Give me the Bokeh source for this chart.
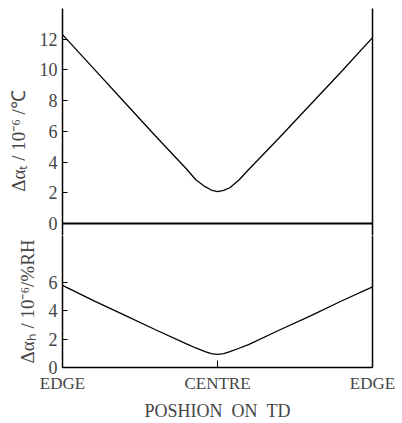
from bokeh.plotting import figure
from bokeh.layouts import column
from bokeh.models import FixedTicker, LinearAxis, Range1d, Span
from bokeh.embed import file_html
from bokeh.resources import INLINE

# ---- data ----
positions = [0.0, 0.1, 0.2, 0.3, 0.4, 0.43, 0.46, 0.48, 0.5, 0.52, 0.54, 0.57, 0.6, 0.7, 0.8, 0.9, 1.0]
alpha_t = [12.3, 10.1, 7.9, 5.7, 3.55, 2.85, 2.4, 2.18, 2.08, 2.16, 2.33, 2.85, 3.5, 5.6, 7.75, 9.9, 12.1]
alpha_h = [5.8, 4.73, 3.7, 2.67, 1.67, 1.38, 1.12, 0.98, 0.93, 0.98, 1.12, 1.36, 1.62, 2.65, 3.65, 4.7, 5.7]
x_ticks = [0, 0.5, 1]
x_tick_labels = ["EDGE", "CENTRE", "EDGE"]
t_ticks = [0, 2, 4, 6, 8, 10, 12]
h_ticks = [0, 2, 4, 6]
t_label = "Δαₜ / 10⁻⁶ /℃" + "\u00a0" * 8
h_label = "Δαₕ / 10⁻⁶/%RH"
x_title = "POSHION\u00a0\u00a0ON\u00a0\u00a0TD"

FONT = "Liberation Serif"
TICK_SIZE = "18px"
XTICK_SIZE = "17px"
LABEL_SIZE = "19px"

# top panel: 0 at y=223, 14 at y=8, extends a little below 0
top = figure(width=402, height=235, x_range=Range1d(0, 1), y_range=Range1d(-0.78, 14),
             output_backend="svg", toolbar_location=None, x_axis_location=None,
             min_border_left=62, min_border_right=30, min_border_top=8, min_border_bottom=0)
top.outline_line_color = None
top.grid.visible = False
top.line(positions, alpha_t, line_color="black", line_width=1.3)
top.add_layout(Span(location=0, dimension="width", line_color="black", line_width=1.8))

ya = top.yaxis[0]
ya.ticker = FixedTicker(ticks=t_ticks)
ya.minor_tick_line_color = None
ya.major_tick_in = 5
ya.major_tick_out = 0
ya.axis_line_width = 1.5
ya.major_label_text_font = FONT
ya.major_label_text_font_size = TICK_SIZE
ya.major_label_standoff = 5
ya.axis_label = t_label
ya.axis_label_text_font = FONT
ya.axis_label_text_font_size = LABEL_SIZE
ya.axis_label_text_font_style = "normal"
ya.axis_label_standoff = 8

ra = LinearAxis(ticker=FixedTicker(ticks=[]), major_label_text_font_size="0px",
                major_tick_out=0, major_tick_in=0, minor_tick_line_color=None,
                axis_line_width=1.5)
top.add_layout(ra, "right")

# bottom panel: 0 at y=375, 15 px per unit
bot = figure(width=402, height=188, x_range=Range1d(0, 1), y_range=Range1d(0, 9.33),
             output_backend="svg", toolbar_location=None,
             min_border_left=62, min_border_right=30, min_border_top=0, min_border_bottom=48)
bot.outline_line_color = None
bot.grid.visible = False
bot.line(positions, alpha_h, line_color="black", line_width=1.3)

rb = LinearAxis(ticker=FixedTicker(ticks=[]), major_label_text_font_size="0px",
                major_tick_out=0, major_tick_in=0, minor_tick_line_color=None,
                axis_line_width=1.5)
bot.add_layout(rb, "right")

yb = bot.yaxis[0]
yb.ticker = FixedTicker(ticks=h_ticks)
yb.minor_tick_line_color = None
yb.major_tick_in = 5
yb.major_tick_out = 0
yb.axis_line_width = 1.5
yb.major_label_text_font = FONT
yb.major_label_text_font_size = TICK_SIZE
yb.major_label_standoff = 5
yb.axis_label = h_label
yb.axis_label_text_font = FONT
yb.axis_label_text_font_size = LABEL_SIZE
yb.axis_label_text_font_style = "normal"
yb.axis_label_standoff = 8

xb = bot.xaxis[0]
xb.ticker = FixedTicker(ticks=x_ticks)
xb.major_label_overrides = {t: l for t, l in zip(x_ticks, x_tick_labels)}
xb.minor_tick_line_color = None
xb.major_tick_in = 7
xb.major_tick_out = 0
xb.axis_line_width = 1.5
xb.major_label_text_font = FONT
xb.major_label_text_font_size = XTICK_SIZE
xb.major_label_standoff = 6
xb.axis_label = x_title
xb.axis_label_text_font = FONT
xb.axis_label_text_font_size = "18px"
xb.axis_label_text_font_style = "normal"
xb.axis_label_standoff = 5

layout = column(top, bot, spacing=0)
open("out.html", "w").write(file_html(layout, INLINE))
